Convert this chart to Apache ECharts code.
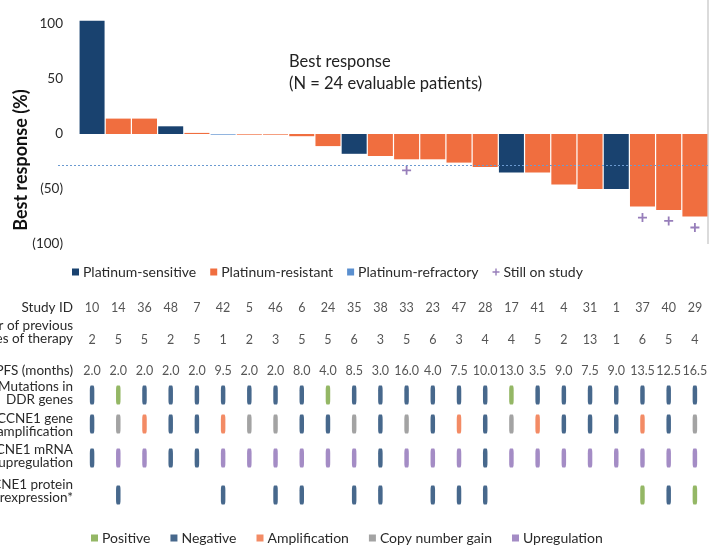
<!DOCTYPE html>
<html>
<head>
<meta charset="utf-8">
<script src="https://cdn.jsdelivr.net/npm/echarts@6/dist/echarts.min.js"></script>
<style>
  html, body { margin: 0; padding: 0; background: #fff; }
  #chart { width: 715px; height: 551px; }
</style>
</head>
<body>
<div id="chart"></div>
<script>
// --- data ---
const studyIds   = [10, 14, 36, 48, 7, 42, 5, 46, 6, 24, 35, 38, 33, 23, 47, 28, 17, 41, 4, 31, 1, 37, 40, 29];
const prevLines  = [2, 5, 5, 2, 5, 1, 2, 3, 5, 5, 6, 3, 5, 6, 3, 4, 4, 5, 2, 13, 1, 6, 5, 4];
const pfsMonths  = [2.0, 2.0, 2.0, 2.0, 2.0, 9.5, 2.0, 2.0, 8.0, 4.0, 8.5, 3.0, 16.0, 4.0, 7.5, 10.0, 13.0, 3.5, 9.0, 7.5, 9.0, 13.5, 12.5, 16.5];
const bestResponse = [103, 14, 14, 7, 1, -0.6, -0.6, -0.6, -2, -11, -18, -20, -23, -23, -26, -30, -35, -35, -46, -50, -50, -66, -69, -75];
// S = sensitive, R = resistant, F = refractory
const platinum   = ['S','R','R','S','R','F','R','R','R','R','S','R','R','R','R','R','S','R','R','R','S','R','R','R'];
const stillOnStudy = [33, 37, 40, 29];
const responseThreshold = -28;
const yTicks = [-100, -50, 0, 50, 100];

// P = positive, N = negative, A = amplification, G = copy number gain, U = upregulation, '' = none
const ddrMutation  = ['N','P','N','N','N','N','N','N','N','P','N','N','N','N','N','N','P','N','N','N','N','N','N','N'];
const ccne1Gene    = ['N','G','A','N','N','A','G','G','N','N','G','N','G','N','A','N','G','A','N','N','N','A','N','G'];
const ccne1Mrna    = ['N','U','U','N','N','U','U','U','U','U','U','N','U','U','U','N','U','U','U','U','U','U','U','U'];
const ccne1Protein = ['','N','','','','N','','N','N','','N','N','','N','N','N','','','','','','P','N','P'];

// --- styling ---
const C = {
  navy: '#19426f', orange: '#f06e3f', refractory: '#5a8fcf', purple: '#7d5ea9',
  green: '#79a53f', grey: '#8c8c8c', upreg: '#8d6fb6', text: '#2a2a2a'
};
const FONT = 'Lato';
const platinumNames = { S: 'Platinum-sensitive', R: 'Platinum-resistant', F: 'Platinum-refractory' };
const platinumColors = { S: C.navy, R: C.orange, F: C.refractory };
const statusNames = { P: 'Positive', N: 'Negative', A: 'Amplification', G: 'Copy number gain', U: 'Upregulation' };
const statusColors = { P: C.green, N: C.navy, A: C.orange, G: C.grey, U: C.upreg };
const plusPath = 'path://M4,0h2v4h4v2h-4v4h-2v-4h-4v-2h4z';

// row positions in the table grid (layout only)
const rowY = { id: 18, lines: 50, pfs: 81, ddr: 105, gene: 134, mrna: 168, protein: 205 };

const xRange = { min: -1.3, max: 23.5 };

const chart = echarts.init(document.getElementById('chart'));

const barSeries = ['S', 'R', 'F'].map((code, k) => ({
  name: platinumNames[code],
  type: 'bar',
  xAxisIndex: 0, yAxisIndex: 0,
  stack: 'resp',
  barWidth: 25,
  clip: false,
  itemStyle: { color: platinumColors[code] },
  data: bestResponse.map((v, i) => platinum[i] === code ? [i, v] : [i, '-']),
  markLine: k === 0 ? {
    silent: true, symbol: 'none', label: { show: false },
    lineStyle: { color: '#6b9ad0', type: [2, 2], width: 1 },
    data: [{ yAxis: responseThreshold }]
  } : undefined
}));

const stillSeries = {
  name: 'Still on study',
  type: 'scatter',
  xAxisIndex: 0, yAxisIndex: 0,
  symbol: plusPath,
  symbolSize: 9,
  symbolOffset: [0, 11],
  clip: false,
  itemStyle: { color: C.purple },
  data: studyIds.map((id, i) => [id, i]).filter(d => stillOnStudy.includes(d[0])).map(d => [d[1], bestResponse[d[1]]])
};

function textRow(values, y, fmt) {
  return {
    type: 'scatter',
    xAxisIndex: 1, yAxisIndex: 1,
    symbolSize: 0,
    silent: true,
    label: {
      show: true, position: 'inside', color: C.text, fontSize: 12.5, fontFamily: FONT,
      formatter: p => fmt(p.data[2])
    },
    data: values.map((v, i) => [i, y, v])
  };
}

const markerRows = [
  [ddrMutation, rowY.ddr],
  [ccne1Gene, rowY.gene],
  [ccne1Mrna, rowY.mrna],
  [ccne1Protein, rowY.protein]
];

const markerSeries = ['P', 'N', 'A', 'G', 'U'].map(code => {
  const data = [];
  markerRows.forEach(([row, y]) => {
    row.forEach((s, i) => { if (s === code) data.push([i, y]); });
  });
  return {
    name: statusNames[code],
    type: 'scatter',
    xAxisIndex: 1, yAxisIndex: 1,
    symbol: 'roundRect',
    symbolSize: [4.5, 19],
    itemStyle: { color: statusColors[code] },
    data: data
  };
});

const rowLabels = [
  ['Study ID', 308],
  ['Number of previous\nlines of therapy', 332],
  ['PFS (months)', 371],
  ['Mutations in\nDDR genes', 393],
  ['CCNE1 gene\namplification', 425],
  ['CCNE1 mRNA\nupregulation', 456],
  ['CCNE1 protein\noverexpression*', 491]
];

const option = {
  animation: false,
  textStyle: { fontFamily: FONT },
  legend: [
    {
      data: ['Platinum-sensitive', 'Platinum-resistant', 'Platinum-refractory',
             { name: 'Still on study', icon: plusPath }],
      left: 72, top: 265, padding: 0,
      itemWidth: 7, itemHeight: 7, itemGap: 14,
      icon: 'rect',
      textStyle: { fontSize: 14, color: C.text, fontFamily: FONT, padding: [0, 0, 0, -1] }
    },
    {
      data: ['Positive', 'Negative', 'Amplification', 'Copy number gain', 'Upregulation'],
      left: 91, top: 531, padding: 0,
      itemWidth: 7, itemHeight: 7, itemGap: 20,
      icon: 'rect',
      textStyle: { fontSize: 14, color: C.text, fontFamily: FONT, padding: [0, 0, 0, -1] }
    }
  ],
  grid: [
    { left: 58, right: 7, top: 24, height: 220 },
    { left: 58, right: 7, top: 290, height: 220 }
  ],
  xAxis: [
    { gridIndex: 0, type: 'value', min: xRange.min, max: xRange.max, show: false },
    { gridIndex: 1, type: 'value', min: xRange.min, max: xRange.max, show: false }
  ],
  yAxis: [
    {
      gridIndex: 0, type: 'value', min: yTicks[0], max: yTicks[yTicks.length - 1], interval: 50,
      axisLine: { show: false }, axisTick: { show: false }, splitLine: { show: false },
      axisLabel: {
        margin: -5, color: C.text, fontSize: 13.5, fontFamily: FONT,
        formatter: v => v < 0 ? '(' + (-v) + ')' : String(v)
      }
    },
    { gridIndex: 1, type: 'value', min: 0, max: 220, inverse: true, show: false }
  ],
  graphic: [
    {
      type: 'text', x: 21, y: 160, rotation: Math.PI / 2,
      style: { text: 'Best response (%)', font: 'bold 18px ' + FONT, fill: '#111', align: 'center', verticalAlign: 'middle' }
    },
    {
      type: 'text', x: 289, y: 51,
      style: { text: 'Best response\n(N = 24 evaluable patients)', font: '16.5px ' + FONT, fill: '#222', lineHeight: 22 }
    },
    {
      type: 'line', shape: { x1: 708, y1: 0, x2: 708, y2: 244 },
      style: { stroke: '#cfcfcf', lineWidth: 1.5 }
    }
  ].concat(rowLabels.map(([t, y]) => ({
    type: 'text', x: 73, y: y,
    style: { text: t, font: '13.5px ' + FONT, fill: C.text, align: 'right', verticalAlign: 'middle', lineHeight: 13 }
  }))),
  series: [
    ...barSeries,
    stillSeries,
    textRow(studyIds, rowY.id, v => String(v)),
    textRow(prevLines, rowY.lines, v => String(v)),
    textRow(pfsMonths, rowY.pfs, v => v.toFixed(1)),
    ...markerSeries
  ]
};

chart.setOption(option);
window.addEventListener('resize', () => chart.resize());
</script>
</body>
</html>
